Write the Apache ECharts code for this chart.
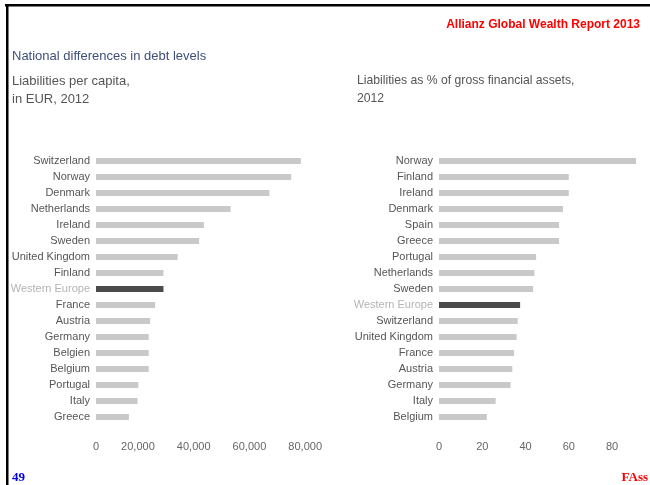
<!DOCTYPE html>
<html>
<head>
<meta charset="utf-8">
<script src="https://cdn.jsdelivr.net/npm/echarts@6/dist/echarts.min.js"></script>
<style>
  html, body { margin: 0; padding: 0; background: #fff; }
  #main { width: 650px; height: 485px; }
</style>
</head>
<body>
<div id="main"></div>
<script>
  // left panel: liabilities per capita, EUR, 2012
  var capitaCountries = ['Switzerland', 'Norway', 'Denmark', 'Netherlands', 'Ireland', 'Sweden',
    'United Kingdom', 'Finland', 'Western Europe', 'France', 'Austria', 'Germany', 'Belgien',
    'Belgium', 'Portugal', 'Italy', 'Greece'];
  var capitaValues = [73500, 70000, 62200, 48300, 38700, 37000, 29300, 24200, 24200, 21200,
    19400, 18900, 18900, 18900, 15200, 14900, 11800];
  var capitaTicks = [0, 20000, 40000, 60000, 80000];

  // right panel: liabilities as % of gross financial assets, 2012
  var shareCountries = ['Norway', 'Finland', 'Ireland', 'Denmark', 'Spain', 'Greece', 'Portugal',
    'Netherlands', 'Sweden', 'Western Europe', 'Switzerland', 'United Kingdom', 'France',
    'Austria', 'Germany', 'Italy', 'Belgium'];
  var shareValues = [91.1, 60.0, 60.0, 57.3, 55.5, 55.5, 44.9, 44.1, 43.5, 37.5, 36.4, 35.9,
    34.7, 33.9, 33.1, 26.2, 22.1];
  var shareTicks = [0, 20, 40, 60, 80];

  var highlight = 'Western Europe';
  var labelFont = 'Liberation Sans, Arial, sans-serif';

  function barData(names, values) {
    return values.map(function (v, i) {
      return {
        value: v,
        itemStyle: { color: names[i] === highlight ? '#4b4b4b' : '#c9c9c9' }
      };
    });
  }

  function catAxis(gridIndex, names) {
    return {
      type: 'category',
      gridIndex: gridIndex,
      data: names,
      inverse: true,
      axisLine: { show: false },
      axisTick: { show: false },
      axisLabel: {
        margin: 6,
        fontFamily: labelFont,
        fontSize: 11,
        color: function (value) {
          return value === highlight ? '#b4b4b4' : '#555555';
        }
      }
    };
  }

  var chart = echarts.init(document.getElementById('main'));

  var option = {
    backgroundColor: '#ffffff',
    animation: false,
    title: [
      {
        text: 'Allianz Global Wealth Report 2013',
        right: 10, top: 19, padding: 0,
        textStyle: { color: '#ff0000', fontWeight: 'bold', fontSize: 12, fontFamily: labelFont }
      },
      {
        text: 'National differences in debt levels',
        left: 12, top: 50, padding: 0,
        textStyle: { color: '#3e4f7a', fontWeight: 'normal', fontSize: 13, fontFamily: labelFont }
      },
      {
        text: 'Liabilities per capita,\nin EUR, 2012',
        left: 12, top: 72, padding: 0,
        textStyle: { color: '#555555', fontWeight: 'normal', fontSize: 13, lineHeight: 18, fontFamily: labelFont }
      },
      {
        text: 'Liabilities as % of gross financial assets,\n2012',
        left: 357, top: 72, padding: 0,
        textStyle: { color: '#555555', fontWeight: 'normal', fontSize: 12.2, lineHeight: 18, fontFamily: labelFont }
      }
    ],
    graphic: [
      { type: 'rect', shape: { x: 5, y: 4, width: 645, height: 2.5 }, style: { fill: '#000' } },
      { type: 'rect', shape: { x: 6, y: 4, width: 2.5, height: 481 }, style: { fill: '#000' } },
      {
        type: 'text', left: 12, top: 471,
        style: { text: '49', fill: '#0000ee', font: 'bold 13px Liberation Serif, serif' }
      },
      {
        type: 'text', right: 2, top: 471,
        style: { text: 'FAss', fill: '#ff0000', font: 'bold 13px Liberation Serif, serif' }
      }
    ],
    grid: [
      { left: 96, width: 223, top: 153, height: 272 },
      { left: 439, width: 199, top: 153, height: 272 }
    ],
    xAxis: [
      {
        type: 'value', gridIndex: 0,
        min: capitaTicks[0], max: capitaTicks[capitaTicks.length - 1], interval: 20000,
        splitLine: { show: false }, axisLine: { show: false }, axisTick: { show: false },
        axisLabel: {
          margin: 16, align: 'right', padding: [0, -3, 0, 0],
          fontFamily: labelFont, fontSize: 11, color: '#666666',
          formatter: function (v) { return v.toLocaleString('en-US'); }
        }
      },
      {
        type: 'value', gridIndex: 1,
        min: shareTicks[0], max: 92, interval: 20,
        splitLine: { show: false }, axisLine: { show: false }, axisTick: { show: false },
        axisLabel: {
          margin: 16, fontFamily: labelFont, fontSize: 11, color: '#666666',
          showMaxLabel: false
        }
      }
    ],
    yAxis: [catAxis(0, capitaCountries), catAxis(1, shareCountries)],
    series: [
      {
        type: 'bar', xAxisIndex: 0, yAxisIndex: 0,
        barWidth: 6,
        data: barData(capitaCountries, capitaValues)
      },
      {
        type: 'bar', xAxisIndex: 1, yAxisIndex: 1,
        barWidth: 6,
        data: barData(shareCountries, shareValues)
      }
    ]
  };

  chart.setOption(option);
</script>
</body>
</html>
